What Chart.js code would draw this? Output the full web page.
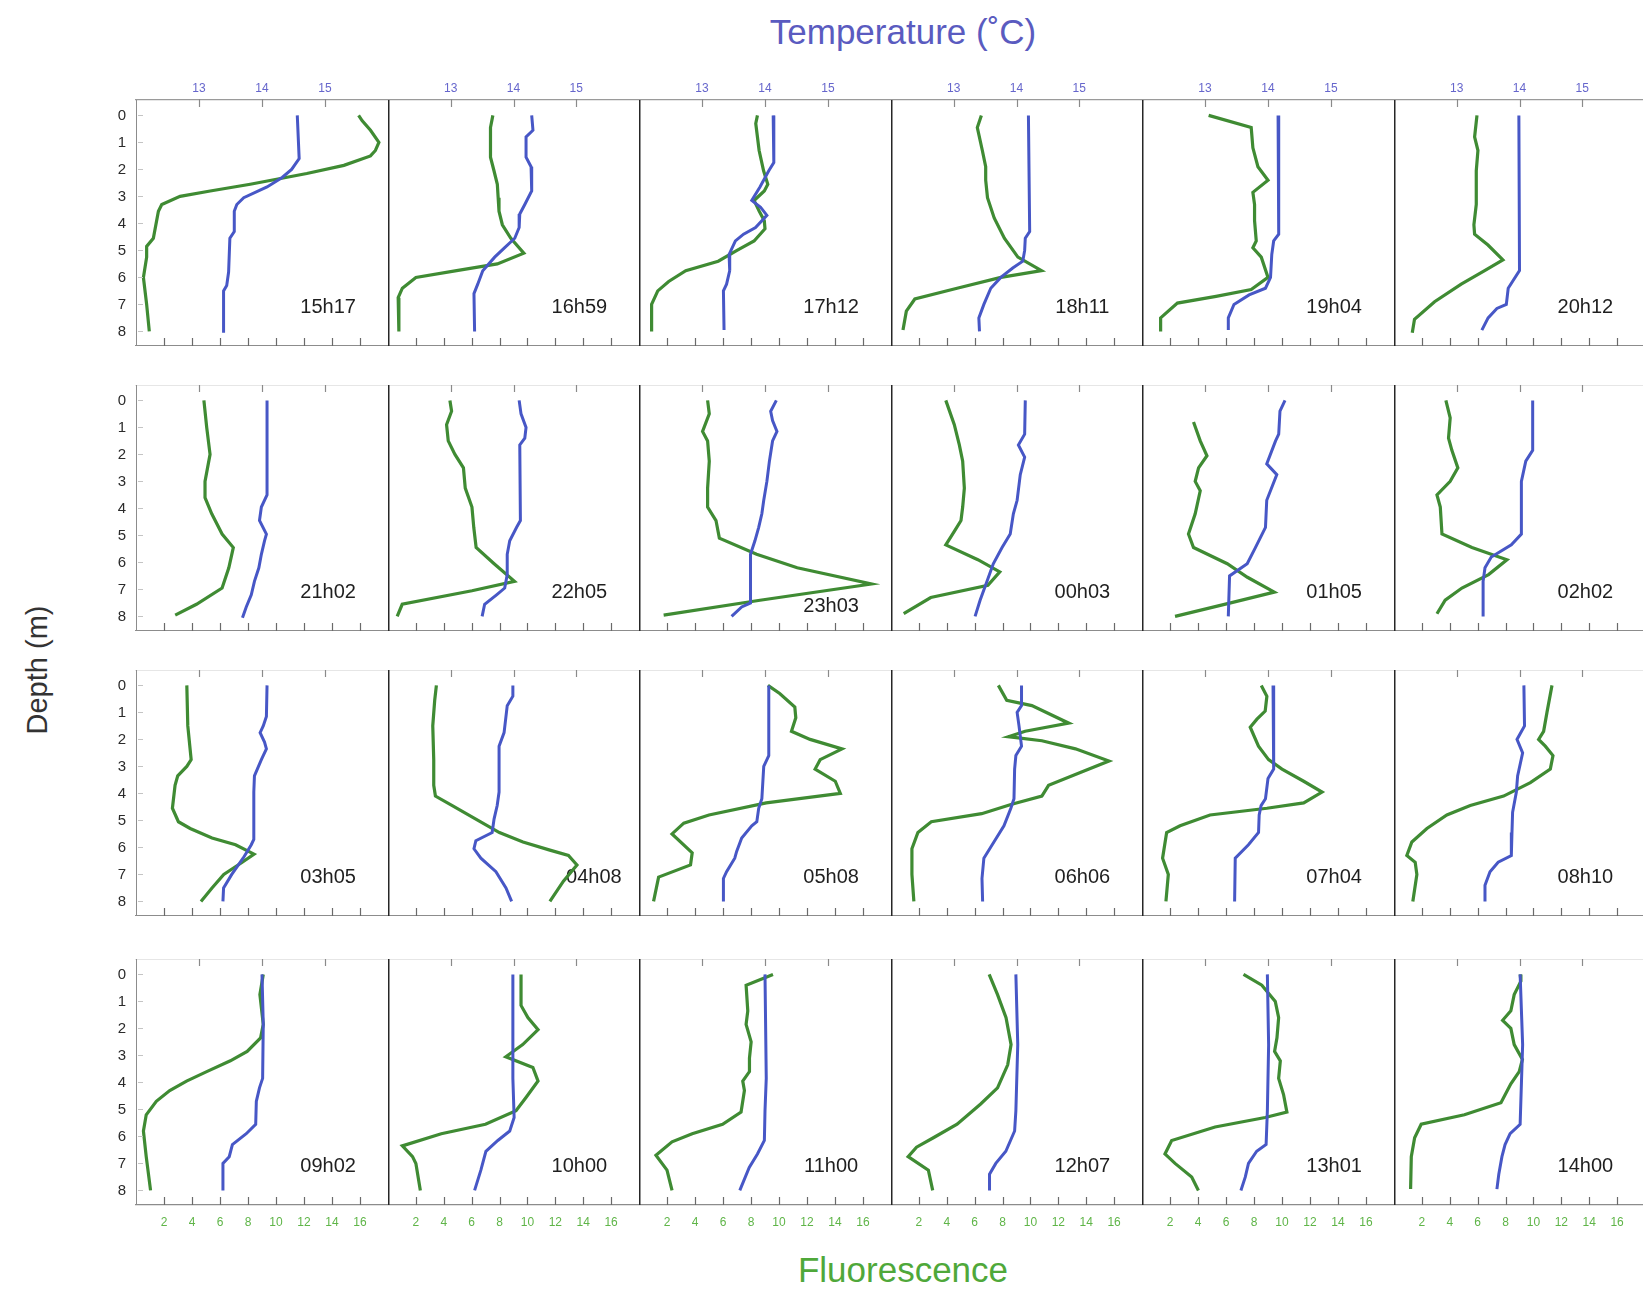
<!DOCTYPE html>
<html>
<head>
<meta charset="utf-8">
<title>Temperature and fluorescence profiles</title>
<script src="https://cdn.jsdelivr.net/npm/chart.js@4.4.1/dist/chart.umd.min.js"></script>
<style>
  html, body { margin: 0; padding: 0; background: #fff; overflow: hidden; }
  #page { position: relative; width: 1643px; height: 1291px; overflow: hidden;
          font-family: "Liberation Sans", Arial, sans-serif; }
  #page canvas { position: absolute; }
  .title { position: absolute; white-space: nowrap; transform: translate(-50%, -50%); }
  #tempTitle { left: 903px; top: 32px; font-size: 35px; color: #5a5bc0; }
  #depthTitle { left: 37px; top: 670px; font-size: 29px; color: #333;
                transform: translate(-50%, -50%) rotate(-90deg); }
  #fluoTitle { left: 903px; top: 1270px; font-size: 35px; color: #4fa83a; }
</style>
</head>
<body>
<div id="page">
  <div class="title" id="tempTitle">Temperature (˚C)</div>
  <div class="title" id="depthTitle">Depth (m)</div>
  <div class="title" id="fluoTitle">Fluorescence</div>
</div>
<script>
// ---------------------------------------------------------------
// Profile data: each profile is a list of [depth (m), value] pairs.
// T = temperature (°C), F = fluorescence.
// ---------------------------------------------------------------
const TIMES = ['15h17','16h59','17h12','18h11','19h04','20h12',
               '21h02','22h05','23h03','00h03','01h05','02h02',
               '03h05','04h08','05h08','06h06','07h04','08h10',
               '09h02','10h00','11h00','12h07','13h01','14h00'];

const DEPTH_TICKS = [0, 1, 2, 3, 4, 5, 6, 7, 8];
const TEMP_TICKS = [13, 14, 15];
const FLUO_TICKS = [2, 4, 6, 8, 10, 12, 14, 16];

const T1517 = [[0,14.56],[1.6,14.59],[2.0,14.47],[2.3,14.32],[2.65,14.08],[3.05,13.71],[3.3,13.6],[3.55,13.56],[4.3,13.56],[4.55,13.49],[5.8,13.47],[6.3,13.44],[6.5,13.39],[8.05,13.39]];
const F1517 = [[0,15.9],[0.2,16.16],[0.55,16.75],[1.0,17.35],[1.3,17.1],[1.5,16.75],[1.85,14.85],[2.15,12.2],[2.55,8.16],[2.8,5.3],[3.0,3.15],[3.3,1.84],[3.55,1.6],[4.55,1.24],[4.85,0.76],[5.25,0.76],[6.0,0.53],[7.0,0.76],[8.0,0.95]];

const T1659 = [[0,14.29],[0.55,14.31],[0.8,14.2],[1.55,14.2],[1.9,14.28],[2.8,14.29],[3.3,14.18],[3.65,14.1],[4.15,14.09],[4.55,14.02],[4.9,13.86],[5.25,13.7],[5.75,13.51],[6.25,13.43],[6.6,13.37],[8.0,13.38]];
const F1659 = [[0,7.52],[0.45,7.35],[1.55,7.35],[2.05,7.6],[2.55,7.84],[3.05,7.9],[3.55,7.96],[4.05,8.2],[4.55,8.81],[5.1,9.74],[5.5,7.84],[5.75,4.92],[6.0,2.0],[6.4,1.03],[6.75,0.73],[8.0,0.78]];

const T1712 = [[0,14.13],[1.75,14.14],[2.05,14.06],[2.65,13.92],[3.15,13.79],[3.4,13.93],[3.7,14.03],[4.15,13.85],[4.4,13.66],[4.65,13.53],[5.15,13.43],[5.75,13.44],[6.25,13.39],[6.5,13.34],[7.95,13.35]];
const F1712 = [[0,8.46],[0.3,8.34],[1.3,8.58],[2.05,8.9],[2.55,9.2],[2.8,8.95],[3.15,8.22],[3.55,8.59],[3.9,8.95],[4.2,9.0],[4.65,8.22],[5.0,7.0],[5.4,5.66],[5.75,3.34],[6.15,2.12],[6.5,1.34],[7.0,0.9],[8.0,0.9]];

const T1811 = [[0,14.19],[4.3,14.21],[4.55,14.14],[5.0,14.13],[5.4,14.1],[5.65,13.94],[6.0,13.75],[6.4,13.59],[7.0,13.48],[7.5,13.4],[8.0,13.41]];
const F1811 = [[0,6.48],[0.45,6.19],[1.3,6.55],[1.9,6.79],[2.4,6.79],[3.05,6.92],[3.8,7.4],[4.55,8.13],[5.25,9.1],[5.75,10.79],[6.0,7.88],[6.4,4.74],[6.8,1.71],[7.25,1.1],[7.95,0.86]];

const T1904 = [[0,14.16],[4.4,14.17],[4.65,14.09],[5.15,14.06],[6.0,14.04],[6.4,13.96],[6.65,13.7],[7.0,13.46],[7.5,13.37],[7.95,13.37]];
const F1904 = [[0,4.76],[0.45,7.8],[1.2,7.92],[1.9,8.28],[2.4,9.0],[2.85,7.92],[3.3,8.04],[3.9,8.04],[4.65,8.16],[4.9,7.92],[5.25,8.52],[6.0,9.0],[6.45,7.8],[6.7,5.29],[6.95,2.53],[7.5,1.33],[8.0,1.33]];

const T2012 = [[0,13.99],[5.75,14.0],[6.4,13.82],[7.0,13.79],[7.15,13.64],[7.5,13.5],[7.95,13.4]];
const F2012 = [[0,5.95],[0.8,5.78],[1.3,6.02],[2.05,5.9],[3.3,5.9],[4.05,5.73],[4.4,5.78],[4.8,6.74],[5.35,7.81],[5.75,6.5],[6.25,4.82],[6.9,2.91],[7.55,1.47],[8.05,1.31]];

const T2102 = [[0,14.08],[3.5,14.08],[3.95,13.99],[4.45,13.96],[4.95,14.07],[5.2,14.04],[5.7,13.99],[6.2,13.95],[6.7,13.88],[7.2,13.83],[7.65,13.75],[8.05,13.69]];
const F2102 = [[0,4.85],[1.0,5.05],[2.0,5.29],[3.0,4.93],[3.6,4.93],[4.2,5.41],[4.95,6.15],[5.45,6.95],[6.2,6.63],[6.95,6.15],[7.55,4.32],[7.95,2.8]];

const T2205 = [[0,14.09],[0.5,14.12],[1.0,14.2],[1.4,14.18],[1.65,14.1],[4.45,14.11],[4.7,14.05],[5.2,13.94],[5.7,13.9],[6.45,13.9],[6.95,13.86],[7.2,13.73],[7.55,13.54],[8.0,13.5]];
const F2205 = [[0,4.44],[0.4,4.56],[0.9,4.2],[1.5,4.32],[2.0,4.8],[2.5,5.41],[3.25,5.54],[3.95,6.02],[4.7,6.15],[5.45,6.32],[6.05,7.61],[6.7,9.07],[7.05,6.02],[7.55,1.02],[8.0,0.66]];

const T2303 = [[0,14.18],[0.4,14.09],[0.75,14.12],[1.15,14.19],[1.5,14.12],[2.25,14.07],[3.0,14.03],[3.7,13.98],[4.2,13.95],[4.7,13.9],[5.2,13.84],[5.7,13.77],[6.45,13.77],[7.5,13.77],[7.65,13.63],[8.0,13.47]];
const F2303 = [[0,4.9],[0.5,5.02],[1.15,4.54],[1.5,4.9],[2.25,5.02],[3.25,4.9],[3.95,4.9],[4.45,5.5],[5.1,5.74],[5.7,8.4],[6.2,11.3],[6.8,16.6],[7.4,8.64],[7.95,1.76]];

const T0003 = [[0,14.14],[1.25,14.13],[1.65,14.03],[2.1,14.13],[2.75,14.06],[3.7,14.01],[4.2,13.95],[4.95,13.9],[5.45,13.77],[6.05,13.63],[6.7,13.53],[7.4,13.42],[8.0,13.34]];
const F0003 = [[0,3.93],[0.9,4.54],[1.65,4.9],[2.25,5.14],[3.25,5.26],[3.95,5.14],[4.45,5.02],[4.85,4.54],[5.35,3.93],[5.9,6.23],[6.35,7.8],[6.85,6.95],[7.3,2.85],[7.9,0.91]];

const T0105 = [[0,14.27],[0.4,14.19],[1.25,14.17],[1.5,14.12],[2.35,13.98],[2.75,14.14],[3.7,13.98],[4.7,13.96],[5.45,13.8],[6.05,13.67],[6.5,13.39],[8.0,13.37]];
const F0105 = [[0.8,3.68],[1.5,4.16],[2.05,4.64],[2.5,4.04],[3.0,3.8],[3.35,4.16],[4.2,3.8],[4.95,3.32],[5.45,3.68],[6.05,6.09],[6.55,7.53],[7.1,9.45],[7.5,6.33],[8.0,2.36]];

const T0202 = [[0,14.21],[1.85,14.21],[2.25,14.1],[3.0,14.03],[4.95,14.03],[5.35,13.87],[5.8,13.55],[6.2,13.45],[6.7,13.42],[8.0,13.42]];
const F0202 = [[0,3.72],[0.65,4.03],[1.4,3.91],[1.85,4.15],[2.5,4.58],[3.0,4.03],[3.5,3.08],[3.95,3.32],[4.95,3.44],[5.45,5.59],[5.9,8.1],[6.45,6.78],[6.95,4.87],[7.4,3.67],[7.9,3.08]];

const T0305 = [[0,14.08],[1.15,14.07],[1.5,14.02],[1.75,13.97],[2.1,14.04],[2.35,14.07],[2.75,13.99],[3.35,13.88],[3.95,13.87],[5.7,13.87],[5.9,13.83],[6.4,13.7],[7.0,13.52],[7.5,13.39],[8.0,13.38]];
const F0305 = [[0,3.63],[1.5,3.7],[2.75,3.94],[3.0,3.63],[3.35,2.98],[3.7,2.79],[4.55,2.6],[5.05,3.03],[5.3,3.87],[5.65,5.43],[5.9,7.11],[6.25,8.43],[6.55,7.59],[7.0,6.27],[7.5,5.43],[8.0,4.64]];

const T0408 = [[0,13.99],[0.4,13.99],[0.75,13.9],[1.75,13.85],[2.25,13.77],[3.95,13.77],[4.45,13.74],[4.95,13.69],[5.45,13.66],[5.75,13.4],[6.05,13.37],[6.4,13.48],[6.9,13.72],[7.5,13.88],[8.0,13.97]];
const F0408 = [[0,3.47],[0.55,3.35],[1.5,3.21],[2.75,3.28],[3.7,3.28],[4.1,3.4],[4.45,4.61],[4.95,6.3],[5.45,7.99],[5.8,9.68],[6.1,11.61],[6.3,12.94],[6.65,13.55],[7.25,12.58],[8.0,11.61]];

const T0508 = [[0,14.06],[2.6,14.06],[3.0,13.98],[4.2,13.95],[4.55,13.9],[5.05,13.87],[5.2,13.79],[5.65,13.63],[6.15,13.55],[6.4,13.52],[6.9,13.39],[7.15,13.34],[8.0,13.34]];
const F0508 = [[0,9.21],[0.3,10.05],[0.8,11.13],[1.2,11.2],[1.7,10.89],[2.0,12.22],[2.35,14.5],[2.75,12.94],[3.1,12.58],[3.55,14.02],[4.0,14.38],[4.35,9.09],[4.8,5.0],[5.1,3.2],[5.5,2.36],[6.2,3.8],[6.65,3.68],[7.1,1.4],[8.0,1.04]];

const T0606 = [[0,14.08],[0.75,14.08],[1.0,14.01],[1.5,14.04],[2.25,14.08],[2.6,13.99],[3.1,13.97],[4.2,13.96],[4.55,13.91],[5.2,13.8],[5.8,13.64],[6.4,13.48],[7.15,13.45],[8.0,13.46]];
const F0606 = [[0,7.7],[0.55,8.3],[0.75,10.1],[1.4,12.75],[1.7,9.62],[1.9,8.42],[2.05,10.82],[2.35,13.23],[2.8,15.63],[3.2,13.71],[3.7,11.3],[4.1,10.82],[4.4,8.66],[4.75,6.5],[5.05,2.89],[5.45,1.93],[6.05,1.5],[7.0,1.5],[8.0,1.64]];

const T0704 = [[0,14.08],[3.1,14.09],[3.45,14.0],[4.2,13.96],[4.45,13.89],[4.8,13.86],[5.45,13.85],[5.9,13.69],[6.4,13.48],[8.0,13.47]];
const F0704 = [[0,8.52],[0.4,8.92],[0.95,8.8],[1.25,8.21],[1.55,7.73],[2.25,8.32],[2.75,9.04],[3.1,10.0],[3.55,11.55],[3.95,12.86],[4.35,11.55],[4.55,8.92],[4.8,4.86],[5.2,2.72],[5.45,1.76],[6.4,1.47],[7.0,1.88],[8.0,1.71]];

const T0810 = [[0,14.07],[1.5,14.08],[2.0,13.96],[2.5,14.05],[3.35,13.97],[3.95,13.95],[4.7,13.89],[5.45,13.88],[6.3,13.87],[6.55,13.66],[6.9,13.53],[7.4,13.45],[8.0,13.45]];
const F0810 = [[0,11.33],[1.0,10.97],[1.7,10.73],[2.0,10.37],[2.25,10.85],[2.6,11.4],[3.1,11.21],[3.6,9.78],[4.1,7.86],[4.45,5.47],[4.8,3.79],[5.3,2.36],[5.8,1.28],[6.3,0.92],[6.55,1.52],[7.0,1.64],[8.0,1.35]];

const T0902 = [[0,14.0],[1.85,14.02],[3.85,14.01],[4.2,13.96],[4.7,13.91],[5.55,13.9],[5.9,13.75],[6.3,13.53],[6.75,13.48],[7.0,13.38],[8.0,13.38]];
const F0902 = [[0,9.09],[0.75,8.85],[1.85,9.09],[2.35,8.9],[2.85,7.94],[3.2,6.74],[3.6,5.05],[3.95,3.61],[4.3,2.41],[4.7,1.45],[5.2,0.73],[5.8,0.53],[6.75,0.73],[8.0,1.04]];

const T1000 = [[0,13.99],[3.85,13.99],[5.3,14.01],[5.8,13.94],[6.15,13.75],[6.55,13.56],[7.25,13.48],[8.0,13.38]];
const F1000 = [[0,9.54],[1.15,9.54],[1.6,10.03],[2.05,10.76],[2.6,9.66],[3.05,8.45],[3.45,10.39],[3.95,10.76],[4.55,9.91],[5.05,9.18],[5.55,6.99],[5.9,3.82],[6.35,1.03],[6.75,1.76],[7.0,2.0],[8.0,2.32]];

const T1100 = [[0,14.0],[3.85,14.02],[5.05,14.0],[6.15,13.99],[6.65,13.88],[7.15,13.75],[8.0,13.6]];
const F1100 = [[0,9.57],[0.4,7.65],[1.35,7.77],[1.85,7.65],[2.5,8.01],[3.1,7.89],[3.6,7.89],[3.95,7.41],[4.3,7.53],[5.1,7.29],[5.55,5.97],[5.9,3.8],[6.2,2.36],[6.7,1.21],[7.25,2.0],[8.0,2.36]];

const T1207 = [[0,13.99],[2.6,14.02],[5.05,13.99],[5.8,13.97],[6.55,13.83],[7.0,13.67],[7.4,13.57],[8.0,13.57]];
const F1207 = [[0,7.04],[0.75,7.64],[1.6,8.25],[2.6,8.61],[3.35,8.37],[4.2,7.64],[4.8,6.43],[5.55,4.74],[6.05,3.04],[6.4,1.83],[6.75,1.23],[7.25,2.68],[8.0,2.99]];

const T1301 = [[0,13.99],[2.6,14.01],[5.05,13.99],[6.3,13.97],[6.55,13.82],[7.0,13.69],[7.5,13.64],[8.0,13.57]];
const F1301 = [[0,7.25],[0.4,8.56],[1.0,9.52],[1.6,9.76],[2.35,9.64],[2.85,9.47],[3.2,9.88],[3.85,9.76],[4.45,10.11],[5.1,10.35],[5.3,8.8],[5.65,5.22],[6.15,2.12],[6.65,1.64],[7.0,2.36],[7.5,3.55],[8.0,4.03]];

const T1400 = [[0,14.01],[2.6,14.05],[5.55,14.01],[5.9,13.85],[6.3,13.77],[6.75,13.72],[7.4,13.67],[7.95,13.64]];
const F1400 = [[0,9.05],[0.25,9.1],[0.75,8.62],[1.35,8.38],[1.7,7.79],[2.0,8.38],[2.6,8.62],[3.15,9.21],[3.6,8.98],[4.05,8.38],[4.75,7.67],[5.2,5.05],[5.55,1.95],[6.05,1.48],[6.75,1.24],[7.95,1.19]];

const TEMP = [T1517,T1659,T1712,T1811,T1904,T2012,T2102,T2205,T2303,T0003,T0105,T0202,
              T0305,T0408,T0508,T0606,T0704,T0810,T0902,T1000,T1100,T1207,T1301,T1400];
const FLUO = [F1517,F1659,F1712,F1811,F1904,F2012,F2102,F2205,F2303,F0003,F0105,F0202,
              F0305,F0408,F0508,F0606,F0704,F0810,F0902,F1000,F1100,F1207,F1301,F1400];

// ---------------------------------------------------------------
// Layout of the 4 x 6 grid of small multiples
// ---------------------------------------------------------------
const BLUE = '#4757c6';
const GREEN = '#3f8b33';
const FONT = '"Liberation Sans", Arial, Helvetica, sans-serif';
Chart.defaults.font.family = FONT;

const GRID_LEFT = 136, PANEL_W = 251.5;
const ROW_TOP = [100, 385, 670, 959];
const PANEL_H = 246;
const LABEL_AT = { t: 15.05, d: 7.12 };
const LABEL_NUDGE = { '23h03': { t: 15.05, d: 7.62 }, '04h08': { t: 15.28, d: 7.12 } };

const toXY = arr => arr.map(([d, v]) => ({ x: v, y: d }));

// keep every panel frame exactly the same size, whatever its tick labels
const noScalePadding = s => { s.paddingTop = 0; s.paddingBottom = 0; s.paddingLeft = 0; s.paddingRight = 0; };

// frame separators, inward tick marks and the cast time inside each panel
const panelDecor = {
  id: 'panelDecor',
  beforeDatasetsDraw(chart, args, opts) {
    const { ctx, scales } = chart;
    const pos = LABEL_NUDGE[opts.label] || LABEL_AT;
    ctx.save();
    ctx.font = '20px ' + FONT;
    ctx.fillStyle = '#1f1f1f';
    ctx.textAlign = 'center';
    ctx.textBaseline = 'middle';
    ctx.fillText(opts.label, scales.xT.getPixelForValue(pos.t), scales.y.getPixelForValue(pos.d));
    ctx.restore();
  },
  afterDraw(chart, args, opts) {
    const { ctx, chartArea: a, scales } = chart;
    ctx.save();
    // left edge of the panel
    ctx.fillStyle = opts.first ? '#8c8c8c' : '#262626';
    ctx.fillRect(Math.round(a.left), Math.round(a.top), opts.first ? 1 : 1.5, Math.round(a.bottom - a.top));
    ctx.lineWidth = 1.2;
    const seg = (x1, y1, x2, y2) => { ctx.beginPath(); ctx.moveTo(x1, y1); ctx.lineTo(x2, y2); ctx.stroke(); };
    ctx.strokeStyle = '#8a8a8a';
    scales.xT.ticks.forEach(t => {
      const x = Math.round(scales.xT.getPixelForValue(t.value)) + 0.5;
      seg(x, a.top - 1, x, a.top + 7);
    });
    ctx.strokeStyle = '#6a6a6a';
    scales.xF.ticks.forEach(t => {
      const x = Math.round(scales.xF.getPixelForValue(t.value)) + 0.5;
      seg(x, a.bottom, x, a.bottom - 8);
    });
    if (opts.first) {
      ctx.strokeStyle = '#c4c4c4';
      ctx.lineWidth = 1;
      scales.y.ticks.forEach(t => {
        const y = Math.round(scales.y.getPixelForValue(t.value)) + 0.5;
        seg(a.left + 2, y, a.left + 7, y);
      });
    }
    ctx.restore();
  }
};

const page = document.getElementById('page');

TIMES.forEach((time, i) => {
  const r = Math.floor(i / 6), c = i % 6;
  const ml = c === 0 ? 50 : 0;
  const mt = r === 0 ? 24 : 0;
  const mb = r === 3 ? 34 : 0;
  const left = Math.round(GRID_LEFT + c * PANEL_W);
  const right = Math.round(GRID_LEFT + (c + 1) * PANEL_W);
  const w = right - left + ml;
  const h = PANEL_H + mt + mb;

  const canvas = document.createElement('canvas');
  canvas.width = w; canvas.height = h;
  canvas.style.width = w + 'px'; canvas.style.height = h + 'px';
  canvas.style.left = (left - ml) + 'px';
  canvas.style.top = (ROW_TOP[r] - mt) + 'px';
  page.appendChild(canvas);

  new Chart(canvas, {
    type: 'scatter',
    data: {
      datasets: [
        { label: 'Temperature', data: toXY(TEMP[i]), xAxisID: 'xT', yAxisID: 'y',
          showLine: true, borderColor: BLUE, borderWidth: 3, pointRadius: 0, tension: 0 },
        { label: 'Fluorescence', data: toXY(FLUO[i]), xAxisID: 'xF', yAxisID: 'y',
          showLine: true, borderColor: GREEN, borderWidth: 3.2, pointRadius: 0, tension: 0 }
      ]
    },
    options: {
      responsive: false,
      animation: false,
      devicePixelRatio: 1,
      layout: { padding: 0 },
      plugins: {
        legend: { display: false },
        tooltip: { enabled: false },
        panelDecor: { label: time, first: c === 0 }
      },
      scales: {
        y: {
          type: 'linear', position: 'left', reverse: true, min: -0.57, max: 8.54,
          afterBuildTicks: s => { s.ticks = DEPTH_TICKS.map(v => ({ value: v })); },
          afterFit: s => { s.width = ml; noScalePadding(s); },
          ticks: { display: c === 0, autoSkip: false, padding: 10, color: '#2b2b2b',
                   font: { size: 15 }, callback: v => String(v) },
          grid: { display: false, drawTicks: false },
          border: { display: false }
        },
        xT: {
          type: 'linear', position: 'top', min: 12, max: 16,
          afterBuildTicks: s => { s.ticks = TEMP_TICKS.map(v => ({ value: v })); },
          afterFit: s => { s.height = mt; noScalePadding(s); },
          ticks: { display: r === 0, autoSkip: false, maxRotation: 0, padding: 4,
                   color: '#6666cc', font: { size: 12 }, callback: v => String(v) },
          grid: { display: false, drawTicks: false },
          border: { display: true, color: '#9a9a9a', width: 1.2 }
        },
        xF: {
          type: 'linear', position: 'bottom', min: 0, max: 18,
          afterBuildTicks: s => { s.ticks = FLUO_TICKS.map(v => ({ value: v })); },
          afterFit: s => { s.height = mb; noScalePadding(s); },
          ticks: { display: r === 3, autoSkip: false, maxRotation: 0, padding: 10,
                   color: '#5fb548', font: { size: 12 }, callback: v => String(v) },
          grid: { display: false, drawTicks: false },
          border: { display: true, color: '#8c8c8c', width: 1.2 }
        }
      }
    },
    plugins: [panelDecor]
  });
});
</script>
</body>
</html>
